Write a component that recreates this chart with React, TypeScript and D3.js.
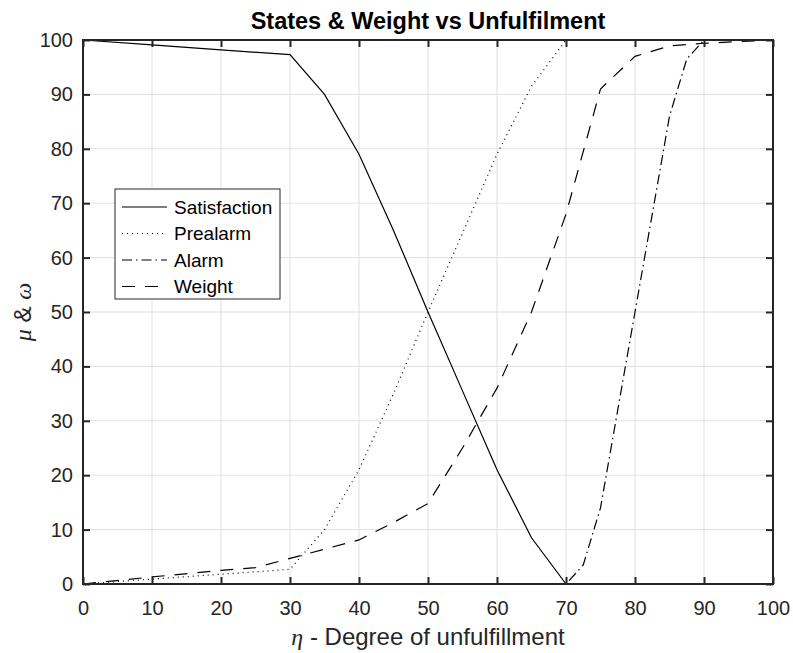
import React, { useRef, useEffect } from 'react'
import * as d3 from 'd3'

// tick values
const xTicks = [0, 10, 20, 30, 40, 50, 60, 70, 80, 90, 100]
const yTicks = [0, 10, 20, 30, 40, 50, 60, 70, 80, 90, 100]

// series
const satX = [0, 10, 20, 30, 35, 40, 45, 50, 55, 60, 65, 70, 100]
const satY = [100, 99.1, 98.2, 97.3, 90, 79, 65, 50, 35.5, 21, 8.5, 0, 0]

const preX = [0, 10, 20, 30, 35, 40, 45, 50, 55, 60, 65, 70, 100]
const preY = [0, 0.9, 1.8, 2.7, 10, 21, 35, 50, 64.5, 79, 91.5, 100, 100]

const alarmX = [0, 70, 72.5, 75, 77.5, 80, 82.5, 85, 87.5, 90, 100]
const alarmY = [0, 0, 3.5, 14, 32, 50, 68, 86, 96.5, 100, 100]

const weightX = [0, 10, 20, 25, 30, 35, 40, 45, 50, 55, 60, 65, 70, 75, 80, 85, 90, 100]
const weightY = [0, 1.3, 2.5, 3, 4.7, 6.4, 8.1, 11.3, 14.8, 25, 36, 50, 68, 91, 97, 98.9, 99.4, 100]

const seriesNames = ['Satisfaction', 'Prealarm', 'Alarm', 'Weight']
const dashes = ['none', '1,4', '10,4,1.5,4', '13,10']

const W = 793
const H = 653
const margin = { left: 83, right: 20, top: 40, bottom: 69 }
const axisColor = '#262626'
const font = 'Arial, "Liberation Sans", Helvetica, sans-serif'

function App() {
    const svgRef = useRef<SVGSVGElement>(null)

    useEffect(() => {
        document.body.style.margin = '0'
        const svg = d3.select(svgRef.current)
        svg.selectAll('*').remove()

        const x0 = margin.left, x1 = W - margin.right
        const y0 = H - margin.bottom, y1 = margin.top

        const xScale = d3.scaleLinear().domain([0, 100]).range([x0, x1])
        const yScale = d3.scaleLinear().domain([0, 100]).range([y0, y1])

        svg.append('rect').attr('width', W).attr('height', H).attr('fill', '#fff')

        // grid
        const grid = svg.append('g')
        grid.selectAll('.gx').data(xTicks).join('line')
            .attr('x1', d => xScale(d)).attr('x2', d => xScale(d))
            .attr('y1', y0).attr('y2', y1)
            .attr('stroke', '#dfdfdf').attr('stroke-width', 1)
        grid.selectAll('.gy').data(yTicks).join('line')
            .attr('y1', d => yScale(d)).attr('y2', d => yScale(d))
            .attr('x1', x0).attr('x2', x1)
            .attr('stroke', '#dfdfdf').attr('stroke-width', 1)

        // data lines
        const all = [
            satX.map((v, i) => [v, satY[i]]),
            preX.map((v, i) => [v, preY[i]]),
            alarmX.map((v, i) => [v, alarmY[i]]),
            weightX.map((v, i) => [v, weightY[i]]),
        ]
        const myLine = d3.line<number[]>()
            .x(d => xScale(d[0]))
            .y(d => yScale(d[1]))

        svg.append('g').selectAll('path').data(all).join('path')
            .attr('d', d => myLine(d))
            .attr('fill', 'none')
            .attr('stroke', '#000')
            .attr('stroke-width', 1.2)
            .attr('stroke-dasharray', (d, i) => dashes[i])

        // axes: bottom/left with labels, top/right ticks only (box on, ticks inside)
        const tickLen = 7
        const xAxis = d3.axisBottom(xScale).tickValues(xTicks).tickSize(-tickLen).tickPadding(17).tickFormat(d3.format('d'))
        const yAxis = d3.axisLeft(yScale).tickValues(yTicks).tickSize(-tickLen).tickPadding(10).tickFormat(d3.format('d'))
        const xTop = d3.axisTop(xScale).tickValues(xTicks).tickSize(-tickLen).tickFormat(() => '')
        const yRight = d3.axisRight(yScale).tickValues(yTicks).tickSize(-tickLen).tickFormat(() => '')

        const styleAxis = (g: any) => {
            g.selectAll('.tick line').attr('stroke', axisColor).attr('stroke-width', 2)
            g.selectAll('.tick text').attr('fill', axisColor).style('font-family', font).style('font-size', '20px')
        }

        svg.append('g').attr('transform', `translate(0,${y0})`).call(xAxis).call(styleAxis)
        svg.append('g').attr('transform', `translate(${x0},0)`).call(yAxis).call(styleAxis)
        svg.append('g').attr('transform', `translate(0,${y1})`).call(xTop).call(styleAxis)
        svg.append('g').attr('transform', `translate(${x1},0)`).call(yRight).call(styleAxis)
        svg.selectAll('.domain').remove()
        svg.append('rect')
            .attr('x', x0).attr('y', y1).attr('width', x1 - x0).attr('height', y0 - y1)
            .attr('fill', 'none').attr('stroke', axisColor).attr('stroke-width', 2)

        // title
        svg.append('text')
            .attr('x', (x0 + x1) / 2).attr('y', 29)
            .attr('text-anchor', 'middle')
            .style('font-family', font).style('font-size', '23.5px').style('font-weight', 'bold')
            .attr('fill', '#000')
            .text('States & Weight vs Unfulfilment')

        // x label
        const xl = svg.append('text')
            .attr('x', (x0 + x1) / 2).attr('y', 645)
            .attr('text-anchor', 'middle')
            .style('font-family', font).style('font-size', '24px')
            .attr('fill', axisColor)
        xl.append('tspan').style('font-family', '"Liberation Serif", serif').style('font-style', 'italic').text('η')
        xl.append('tspan').text(' - Degree of unfulfillment')

        // y label
        const yl = svg.append('text')
            .attr('transform', `translate(31,${(y0 + y1) / 2}) rotate(-90)`)
            .attr('text-anchor', 'middle')
            .style('font-family', font).style('font-size', '24px')
            .attr('fill', axisColor)
        yl.append('tspan').style('font-family', '"Liberation Serif", serif').style('font-style', 'italic').text('μ')
        yl.append('tspan').text(' & ')
        yl.append('tspan').style('font-family', '"Liberation Serif", serif').style('font-style', 'italic').text('ω')

        // legend
        const lg = svg.append('g').attr('transform', 'translate(115,189)')
        lg.append('rect').attr('width', 165).attr('height', 110)
            .attr('fill', '#fff').attr('stroke', axisColor).attr('stroke-width', 1)
        const rows = lg.selectAll('.row').data(seriesNames).join('g')
            .attr('transform', (d, i) => `translate(0,${18 + i * 26.5})`)
        rows.append('line')
            .attr('x1', 7).attr('x2', 52).attr('y1', 0).attr('y2', 0)
            .attr('stroke', '#000').attr('stroke-width', 1.2)
            .attr('stroke-dasharray', (d, i) => dashes[i])
        rows.append('text')
            .attr('x', 59).attr('y', 0).attr('dy', '0.35em')
            .style('font-family', font).style('font-size', '19px')
            .attr('fill', '#000')
            .text(d => d)
    }, [])

    return (
        <svg ref={svgRef} width={W} height={H} style={{ display: 'block' }} />
    )
}

export default App
